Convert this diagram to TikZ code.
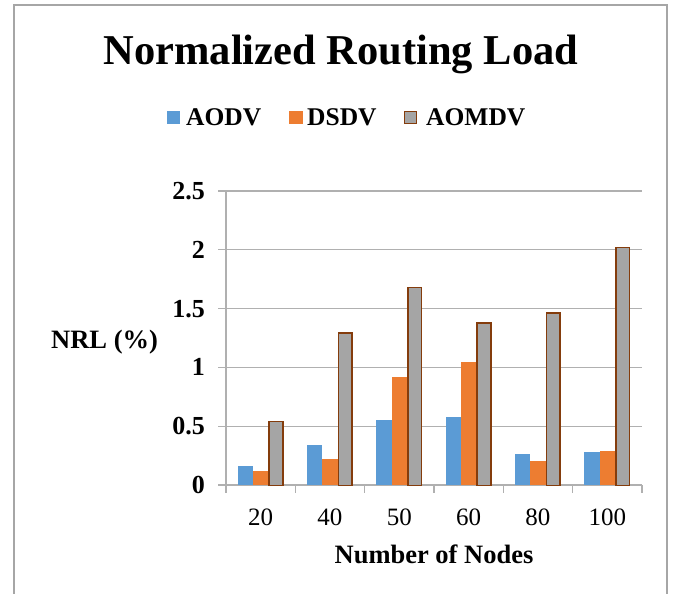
\documentclass[tikz,border=0pt]{standalone}
\usepackage{fontspec}
\setmainfont{Liberation Serif}
\definecolor{aodvc}{HTML}{5B9BD5}
\definecolor{dsdvc}{HTML}{ED7D31}
\definecolor{aomdvfill}{HTML}{A5A5A5}
\definecolor{aomdvline}{HTML}{843C0C}
\definecolor{gridc}{HTML}{B0B0B0}
\definecolor{framec}{HTML}{A6A6A6}
\begin{document}
\begin{tikzpicture}[x=1pt,y=-1pt,
  gridline/.style={draw=gridc,line width=1.3pt},
  barA/.style={fill=aodvc,draw=none},
  barD/.style={fill=dsdvc,draw=none},
  barM/.style={fill=aomdvfill,draw=aomdvline,line width=1.8pt},
  ytl/.style={anchor=east,inner sep=0pt,font=\fontsize{26}{29}\selectfont\bfseries},
  xtl/.style={anchor=base,inner sep=0pt,font=\fontsize{25}{28}\selectfont},
  legtxt/.style={anchor=base west,inner sep=0pt,font=\fontsize{25.5}{28}\selectfont\bfseries}]
\useasboundingbox (0,0) rectangle (675,594);
\clip (0,0) rectangle (675,594);
\draw[draw=framec,line width=1.3pt] (14,5) rectangle (667,620);
% title
\node[anchor=base,inner sep=0pt,font=\fontsize{42.5}{48}\selectfont\bfseries] (title) at (341,65) {Normalized Routing Load};
% legend
\fill[aodvc] (167,111) rectangle (180,124);
\node[legtxt] (legA) at (186,125) {AODV};
\fill[dsdvc] (289,111) rectangle (303,124);
\node[legtxt] (legD) at (307,125) {DSDV};
\draw[barM] (404.5,111.5) rectangle (416.5,123.5);
\node[legtxt] (legM) at (426,125) {AOMDV};
% grid
\foreach \v in {0.5,1,1.5,2,2.5}
  \draw[gridline] (218,{485-\v*117.6}) -- (642,{485-\v*117.6});
\draw[gridline] (218,485) -- (642,485);
\draw[gridline] (226,{485-2.5*117.6}) -- (226,493);
\foreach \i in {1,...,6}
  \draw[gridline] ({226+69.33*\i},485) -- ({226+69.33*\i},493);
% y tick labels
\foreach \v/\t [count=\k] in {0/0,0.5/0.5,1/1,1.5/1.5,2/2,2.5/2.5}
  \node[ytl] (yl\k) at (205,{485-\v*117.6}) {\t};
% bars
\foreach \a/\d/\m/\lab [count=\i from 0] in {0.16/0.12/0.54/20, 0.34/0.22/1.29/40, 0.55/0.92/1.68/50, 0.58/1.05/1.38/60, 0.26/0.20/1.46/80, 0.28/0.29/2.02/100}{
  \pgfmathsetmacro{\L}{226+69.33*\i+11.55}
  \fill[barA] (\L,485) rectangle ({\L+15.4},{485-\a*117.6});
  \fill[barD] ({\L+15.4},485) rectangle ({\L+30.8},{485-\d*117.6});
  \draw[barM] ({\L+30.8+0.9},485.5) rectangle ({\L+46.2-0.9},{485-\m*117.6});
  \node[xtl] (xl\i) at ({226+69.33*(\i+0.5)},525) {\lab};
}
% axis titles
\node[anchor=base,inner sep=0pt,font=\fontsize{26.5}{30}\selectfont\bfseries] (xtitle) at (434,563) {Number of Nodes};
\node[anchor=base west,inner sep=0pt,font=\fontsize{26.5}{30}\selectfont\bfseries] (ytitle) at (51,348) {NRL (\%)};
\end{tikzpicture}
\end{document}
